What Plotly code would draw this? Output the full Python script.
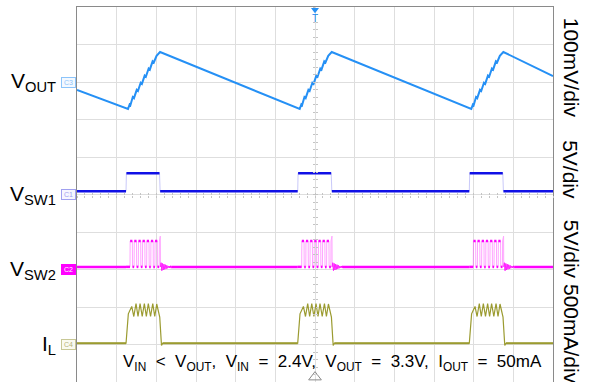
import plotly.graph_objects as go

# ---------------- data ----------------
# horizontal: 12 divisions of 5 us, vertical: 10 divisions
T_END_US = 60.0
TRIGGER_US = 30.0
burst_start_us = [6.18, 27.82, 49.45]

# output ripple, mV relative to the channel marker (100 mV/div)
vout_first_mv = -21
vout_last_mv = 16
vout_burst_dt = [0.25, 0.45, 0.55, 0.85, 1.00, 1.35, 1.50, 1.85, 2.00,
                 2.35, 2.50, 2.85, 3.00, 3.35, 3.50, 3.85, 4.29]
vout_burst_mv = [-72, -60, -62, -40, -43, -21, -24, -2, -5,
                 17, 14, 36, 33, 55, 52, 70, 80]

# SW1 node, V (5 V/div)
sw1_burst_dt = [0.00, 0.05, 4.22, 4.30]
sw1_burst_v = [0.45, 2.85, 2.85, 0.45]

# SW2 node, V (5 V/div): switching pulses, final spike, ringing
sw2_burst_dt = [0.00,
                0.50, 0.52, 0.80, 0.82,
                1.02, 1.04, 1.32, 1.34,
                1.55, 1.57, 1.85, 1.87,
                2.07, 2.09, 2.37, 2.39,
                2.60, 2.62, 2.90, 2.92,
                3.12, 3.14, 3.42, 3.44,
                3.64, 3.66, 3.94, 3.96,
                4.18, 4.20, 4.32, 4.34,
                4.42, 4.51, 4.60, 4.69, 4.78, 4.87, 4.96, 5.05,
                5.14, 5.23, 5.32, 5.41, 5.50, 5.59, 5.70]
sw2_burst_v = [0.35,
               0.35, 3.80, 3.80, 0.35,
               0.35, 3.80, 3.80, 0.35,
               0.35, 3.80, 3.80, 0.35,
               0.35, 3.80, 3.80, 0.35,
               0.35, 3.80, 3.80, 0.35,
               0.35, 3.80, 3.80, 0.35,
               0.35, 3.80, 3.80, 0.35,
               0.35, 3.80, 4.45, 0.35,
               0.90, -0.15, 0.80, -0.05, 0.71, 0.03, 0.63, 0.09,
               0.55, 0.17, 0.47, 0.25, 0.41, 0.31, 0.35]
sw2_ring_from_dt = 4.34

# inductor current, mA (500 mA/div)
il_burst_dt = [0.00, 0.29, 0.72, 0.98, 1.26, 1.51, 1.77, 2.04, 2.31,
               2.56, 2.81, 3.09, 3.37, 3.62, 3.87, 4.25, 4.47, 4.62]
il_burst_ma = [17, 409, 507, 373, 547, 373, 547, 373, 547,
               373, 547, 373, 547, 373, 540, 365, -13, 17]

# ---------------- helpers ----------------
def build(dt, vals, first, last):
    t, v = [0.0], [first]
    for s in burst_start_us:
        t += [s + d for d in dt]
        v += list(vals)
    t.append(T_END_US)
    v.append(last)
    return t, v


def flat_parts(t, v, tol):
    xs, ys = [], []
    for i in range(len(t) - 1):
        if abs(v[i + 1] - v[i]) <= tol:
            xs += [t[i], t[i + 1], None]
            ys += [v[i], v[i + 1], None]
    return xs, ys


def ringing_parts(dt, vals, start):
    xs, ys = [], []
    for s in burst_start_us:
        for d, val in zip(dt, vals):
            if d >= start:
                xs.append(s + d)
                ys.append(val)
        xs.append(None)
        ys.append(None)
    return xs, ys


FONT = "Arial, Liberation Sans, sans-serif"
C_VOUT = "#2590f5"
C_SW1 = "#1010e6"
C_SW2 = "#ff00ff"
C_IL = "#9b9b30"

t_vo, v_vo = build(vout_burst_dt, vout_burst_mv, vout_first_mv, vout_last_mv)
t_s1, v_s1 = build(sw1_burst_dt, sw1_burst_v, sw1_burst_v[0], sw1_burst_v[0])
t_s2, v_s2 = build(sw2_burst_dt, sw2_burst_v, sw2_burst_v[0], sw2_burst_v[0])
t_il, v_il = build(il_burst_dt, il_burst_ma, il_burst_ma[0], il_burst_ma[0])

fig = go.Figure()

# V_OUT
fig.add_trace(go.Scatter(x=t_vo, y=v_vo, mode="lines", yaxis="y",
                         line=dict(color=C_VOUT, width=2)))

# V_SW1: faint edges + bold levels
fig.add_trace(go.Scatter(x=t_s1, y=v_s1, mode="lines", yaxis="y2", opacity=0.22,
                         line=dict(color=C_SW1, width=1)))
bx, by = flat_parts(t_s1, v_s1, 0.1)
fig.add_trace(go.Scatter(x=bx, y=by, mode="lines", yaxis="y2",
                         line=dict(color=C_SW1, width=2.5)))

# V_SW2: faint edges, bold levels, ringing after the burst
fig.add_trace(go.Scatter(x=t_s2, y=v_s2, mode="lines", yaxis="y3", opacity=0.35,
                         line=dict(color=C_SW2, width=1)))
bx, by = flat_parts(t_s2, v_s2, 0.1)
fig.add_trace(go.Scatter(x=bx, y=by, mode="lines", yaxis="y3",
                         line=dict(color=C_SW2, width=2.5)))
rx, ry = ringing_parts(sw2_burst_dt, sw2_burst_v, sw2_ring_from_dt)
fig.add_trace(go.Scatter(x=rx, y=ry, mode="lines", yaxis="y3", opacity=0.8,
                         line=dict(color=C_SW2, width=1)))

# I_L
fig.add_trace(go.Scatter(x=t_il, y=v_il, mode="lines", yaxis="y4",
                         line=dict(color=C_IL, width=1.2)))
bx, by = flat_parts(t_il, v_il, 5)
fig.add_trace(go.Scatter(x=bx, y=by, mode="lines", yaxis="y4",
                         line=dict(color=C_IL, width=2)))

# trigger position markers (top and bottom edge of the graticule)
fig.add_trace(go.Scatter(x=[TRIGGER_US], y=[4.93], mode="markers", yaxis="y5",
                         cliponaxis=False,
                         marker=dict(symbol="triangle-down", size=7, color=C_VOUT)))
fig.add_trace(go.Scatter(x=[TRIGGER_US], y=[-4.87], mode="markers", yaxis="y5",
                         cliponaxis=False,
                         marker=dict(symbol="triangle-up-open", size=11, color="#8a8a8a",
                                     line=dict(width=1, color="#8a8a8a"))))

# carriers for the centre-line tick axes
fig.add_trace(go.Scatter(x=[], y=[], xaxis="x2", yaxis="y"))
fig.add_trace(go.Scatter(x=[], y=[], xaxis="x3", yaxis="y"))
fig.add_trace(go.Scatter(x=[], y=[], xaxis="x", yaxis="y6"))

GRID = "#dedede"
TICK = "#c4c4c4"
hidden_y = dict(overlaying="y", showgrid=False, zeroline=False,
                showticklabels=False, ticks="", showline=False)

fig.update_layout(
    width=593, height=382,
    margin=dict(l=77, r=40, t=7, b=0),
    paper_bgcolor="white", plot_bgcolor="white",
    showlegend=False, hovermode=False,
    xaxis=dict(range=[0, T_END_US], dtick=5, showgrid=True, gridcolor=GRID,
               gridwidth=1, zeroline=False, showticklabels=False, ticks="",
               showline=True, linecolor="#8a8a8a", linewidth=1, mirror=True),
    yaxis=dict(range=[-800, 200], dtick=100, showgrid=True, gridcolor=GRID,
               gridwidth=1, zeroline=False, showticklabels=False, ticks="",
               showline=True, linecolor="#8a8a8a", linewidth=1, mirror=True),
    yaxis2=dict(range=[-25, 25], **hidden_y),
    yaxis3=dict(range=[-15, 35], **hidden_y),
    yaxis4=dict(range=[-500, 4500], **hidden_y),
    xaxis2=dict(range=[0, T_END_US], dtick=1, overlaying="x", anchor="free",
                position=0.5, ticks="outside", ticklen=2, tickcolor=TICK,
                showgrid=False, zeroline=False, showticklabels=False, showline=False),
    xaxis3=dict(range=[0, T_END_US], dtick=1, overlaying="x", anchor="free",
                position=0.5, ticks="inside", ticklen=2, tickcolor=TICK,
                showgrid=False, zeroline=False, showticklabels=False, showline=False),
    yaxis5=dict(range=[-5, 5], dtick=0.2, overlaying="y", anchor="free",
                position=0.5, ticks="outside", ticklen=2, tickcolor=TICK,
                showgrid=False, zeroline=False, showticklabels=False, showline=False),
    yaxis6=dict(range=[-5, 5], dtick=0.2, overlaying="y", anchor="free",
                position=0.5, ticks="inside", ticklen=2, tickcolor=TICK,
                showgrid=False, zeroline=False, showticklabels=False, showline=False),
)

ann = []
# channel names
for text, yref in [("V<sub>OUT</sub>", "y"), ("V<sub>SW1</sub>", "y2"),
                   ("V<sub>SW2</sub>", "y3"), ("I<sub>L</sub>", "y4")]:
    ann.append(dict(text=text, xref="paper", x=-0.04, xanchor="right",
                    yref=yref, y=0, yanchor="middle", showarrow=False,
                    font=dict(family=FONT, size=21, color="black")))

# channel ground markers
for text, yref, border, bg, fg in [
        ("C3", "y", "#8cc4fa", "#f4f9ff", "#8cc4fa"),
        ("C1", "y2", "#a0a0f0", "#f6f6ff", "#a0a0f0"),
        ("C2", "y3", "#ff00ff", "#ff00ff", "white"),
        ("C4", "y4", "#c8c896", "#fafaf0", "#b4b47c")]:
    ann.append(dict(text=text, xref="paper", x=-0.003, xanchor="right",
                    yref=yref, y=0, yanchor="middle", showarrow=False,
                    font=dict(family=FONT, size=7, color=fg),
                    bordercolor=border, borderwidth=1, bgcolor=bg,
                    borderpad=0, width=13, height=9))

# vertical scale labels on the right
for text, ypos in [("100mV/div", 0.838), ("5V/div", 0.565),
                   ("5V/div 500mA/div", 0.214)]:
    ann.append(dict(text=text, xref="paper", x=1.0378, xanchor="center",
                    yref="paper", y=ypos, yanchor="middle", textangle=90,
                    showarrow=False,
                    font=dict(family=FONT, size=21, color="black")))

# test conditions
cond = ("V<sub>IN</sub>&nbsp; &lt;&nbsp; V<sub>OUT</sub>,&nbsp; V<sub>IN</sub>&nbsp; =&nbsp; 2.4V,"
        "&nbsp; V<sub>OUT</sub>&nbsp; =&nbsp; 3.3V,&nbsp; I<sub>OUT</sub>&nbsp; =&nbsp; 50mA")
ann.append(dict(text=cond, xref="paper", x=0.536, xanchor="center",
                yref="paper", y=0.052, yanchor="middle", showarrow=False,
                font=dict(family=FONT, size=17, color="black")))

# trigger letter below the top marker
ann.append(dict(text="T", xref="paper", x=0.5, xanchor="center",
                yref="paper", y=1.0, yanchor="top", yshift=-4, showarrow=False,
                font=dict(family=FONT, size=10, color=C_VOUT)))

fig.update_layout(annotations=ann)

fig.write_html("out.html", config={"displayModeBar": False})
